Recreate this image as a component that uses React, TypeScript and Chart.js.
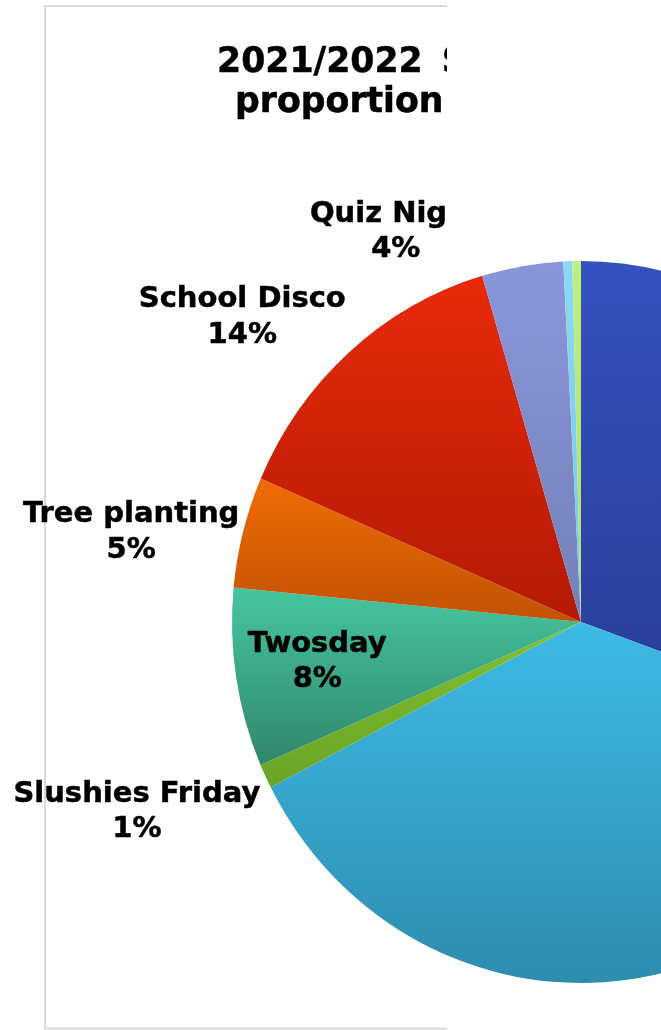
import React, { useEffect, useRef } from 'react';
import { Chart, registerables } from 'chart.js';

Chart.register(...registerables);

// ---- data ----
const categories = [
  'Bake Sale',
  'Book Fair',
  'Slushies Friday',
  'Twosday',
  'Tree planting',
  'School Disco',
  'Quiz Night',
  'Raffle',
  'Cake Stall',
];
const shares = [30.49, 36.95, 1.09, 8.0, 4.99, 13.92, 3.76, 0.41, 0.4];
const labelModes = ['outside', 'outside', 'outside', 'inside', 'outside', 'outside', 'outside', 'outside', 'outside'];
const titleLines = ['2021/2022\u2009 Student Council Fundraising', 'proportion of funds raised'];
const topColors = ['#3452C0', '#3DBAE5', '#80C22F', '#45C6A0', '#F06C04', '#E82A0A', '#8A96DA', '#8AD8F5', '#BDF07F'];
const bottomColors = ['#283B94', '#2D8DAF', '#6AA326', '#31876C', '#C25204', '#B21A05', '#7480B6', '#7CC8E6', '#AEDD70'];

// ---- layout ----
const CANVAS_W = 1162;
const CANVAS_H = 1030;
const PIE_SCALE_X = 349 / 361;
const CLIP_RIGHT = 447;
const FONT_TITLE = "bold 34.7px 'DejaVu Sans'";
const FONT_LABEL = "bold 29px 'DejaVu Sans'";
const TEXT_STROKE = 0.5;
const LABEL_CAP = 21;
const LABEL_LINE = 35.5;
const LABEL_GAP = 9;
const INSIDE_FRACTION = 0.765;
const labelNudgeX: Record<string, number> = {
  'Quiz Night': -125,
  'School Disco': 2,
  'Tree planting': 5,
  'Slushies Friday': 3,
};
const labelNudgeY: Record<string, number> = { Twosday: -6, 'School Disco': -2, 'Slushies Friday': 1 };

const total = shares.reduce((a, b) => a + b, 0);
const percentText = shares.map((v) => Math.round((v / total) * 100) + '%');

function sliceGradient(c: any) {
  const chart = c.chart;
  const area = chart.chartArea;
  const i = c.dataIndex;
  if (!area || i === undefined) return topColors[i || 0];
  let before = 0;
  for (let k = 0; k < i; k++) before += shares[k];
  const a0 = (before / total) * Math.PI * 2;
  const a1 = ((before + shares[i]) / total) * Math.PI * 2;
  const cy = (area.top + area.bottom) / 2;
  const r = Math.min(area.right - area.left, area.bottom - area.top) / 2;
  const ys = [cy, cy - r * Math.cos(a0), cy - r * Math.cos(a1)];
  if (a0 <= 1e-9 || a1 >= Math.PI * 2 - 1e-9) ys.push(cy - r);
  if (a0 <= Math.PI && a1 >= Math.PI) ys.push(cy + r);
  const y0 = Math.min(...ys);
  const y1 = Math.max(...ys);
  const g = chart.ctx.createLinearGradient(0, y0, 0, y1 + 0.01);
  g.addColorStop(0, topColors[i]);
  g.addColorStop(1, bottomColors[i]);
  return g;
}

function drawText(ctx: CanvasRenderingContext2D, t: string, x: number, y: number) {
  ctx.fillText(t, x, y);
  if (TEXT_STROKE > 0) ctx.strokeText(t, x, y);
}

const excelPiePlugin = {
  id: 'excelPie',
  beforeDatasetsDraw(chart: any) {
    const { ctx } = chart;
    ctx.save();
    ctx.beginPath();
    ctx.rect(0, 0, CLIP_RIGHT, CANVAS_H);
    ctx.clip();
    ctx.strokeStyle = '#D9D9D9';
    ctx.lineWidth = 2;
    ctx.strokeRect(45, 6, 900, 1022.5);
    ctx.restore();
    const arc = chart.getDatasetMeta(0).data[0];
    ctx.save();
    ctx.translate(arc.x, 0);
    ctx.scale(PIE_SCALE_X, 1);
    ctx.translate(-arc.x, 0);
  },
  afterDatasetsDraw(chart: any) {
    const { ctx } = chart;
    ctx.restore();
    ctx.save();
    ctx.beginPath();
    ctx.rect(0, 0, CLIP_RIGHT, CANVAS_H);
    ctx.clip();
    ctx.fillStyle = '#000000';
    ctx.strokeStyle = '#000000';
    ctx.lineWidth = TEXT_STROKE;
    ctx.lineJoin = 'round';
    ctx.textBaseline = 'alphabetic';
    ctx.font = FONT_TITLE;
    ctx.textAlign = 'left';
    drawText(ctx, titleLines[0], 217, 71.5);
    drawText(ctx, titleLines[1], 235, 111.5);
    ctx.font = FONT_LABEL;
    ctx.textAlign = 'center';
    const meta = chart.getDatasetMeta(0);
    meta.data.forEach((el: any, i: number) => {
      const p = el.getProps(['x', 'y', 'startAngle', 'endAngle', 'outerRadius'], true);
      const mid = (p.startAngle + p.endAngle) / 2;
      const cs = Math.cos(mid);
      const sn = Math.sin(mid);
      const lines = [categories[i], percentText[i]];
      const w = Math.max(...lines.map((l) => ctx.measureText(l).width));
      const h = LABEL_CAP + LABEL_LINE;
      let cx: number;
      let top: number;
      if (labelModes[i] === 'inside') {
        cx = p.x + p.outerRadius * PIE_SCALE_X * INSIDE_FRACTION * cs;
        top = p.y + p.outerRadius * INSIDE_FRACTION * sn - h / 2;
      } else {
        const px = p.x + (p.outerRadius * PIE_SCALE_X + LABEL_GAP) * cs;
        const py = p.y + (p.outerRadius + LABEL_GAP) * sn;
        if (cs < -0.3) cx = px - w / 2;
        else if (cs > 0.3) cx = px + w / 2;
        else cx = px;
        if (sn < -0.3) top = py - h;
        else if (sn > 0.3) top = py;
        else top = py - h / 2;
      }
      cx += labelNudgeX[categories[i]] || 0;
      top += labelNudgeY[categories[i]] || 0;
      drawText(ctx, lines[0], cx, top + LABEL_CAP);
      drawText(ctx, lines[1], cx, top + LABEL_CAP + LABEL_LINE);
    });
    ctx.restore();
  },
};

export default function App() {
  const ref = useRef<HTMLCanvasElement | null>(null);
  useEffect(() => {
    document.body.style.margin = '0';
    const canvas = ref.current;
    if (!canvas) return;
    const chart = new Chart(canvas, {
      type: 'pie',
      data: {
        labels: categories,
        datasets: [
          {
            data: shares,
            backgroundColor: sliceGradient as any,
            borderWidth: 0,
          },
        ],
      },
      options: {
        responsive: false,
        animation: false,
        devicePixelRatio: 1,
        events: [],
        layout: { padding: { top: 261, bottom: 47, left: 220, right: 220 } },
        plugins: {
          legend: { display: false },
          tooltip: { enabled: false },
          title: { display: false },
        },
      },
      plugins: [excelPiePlugin],
    });
    return () => chart.destroy();
  }, []);
  return (
    <div style={{ width: 661, height: 1030, overflow: 'hidden', position: 'relative', background: '#ffffff' }}>
      <canvas ref={ref} width={CANVAS_W} height={CANVAS_H} style={{ display: 'block' }} />
    </div>
  );
}
